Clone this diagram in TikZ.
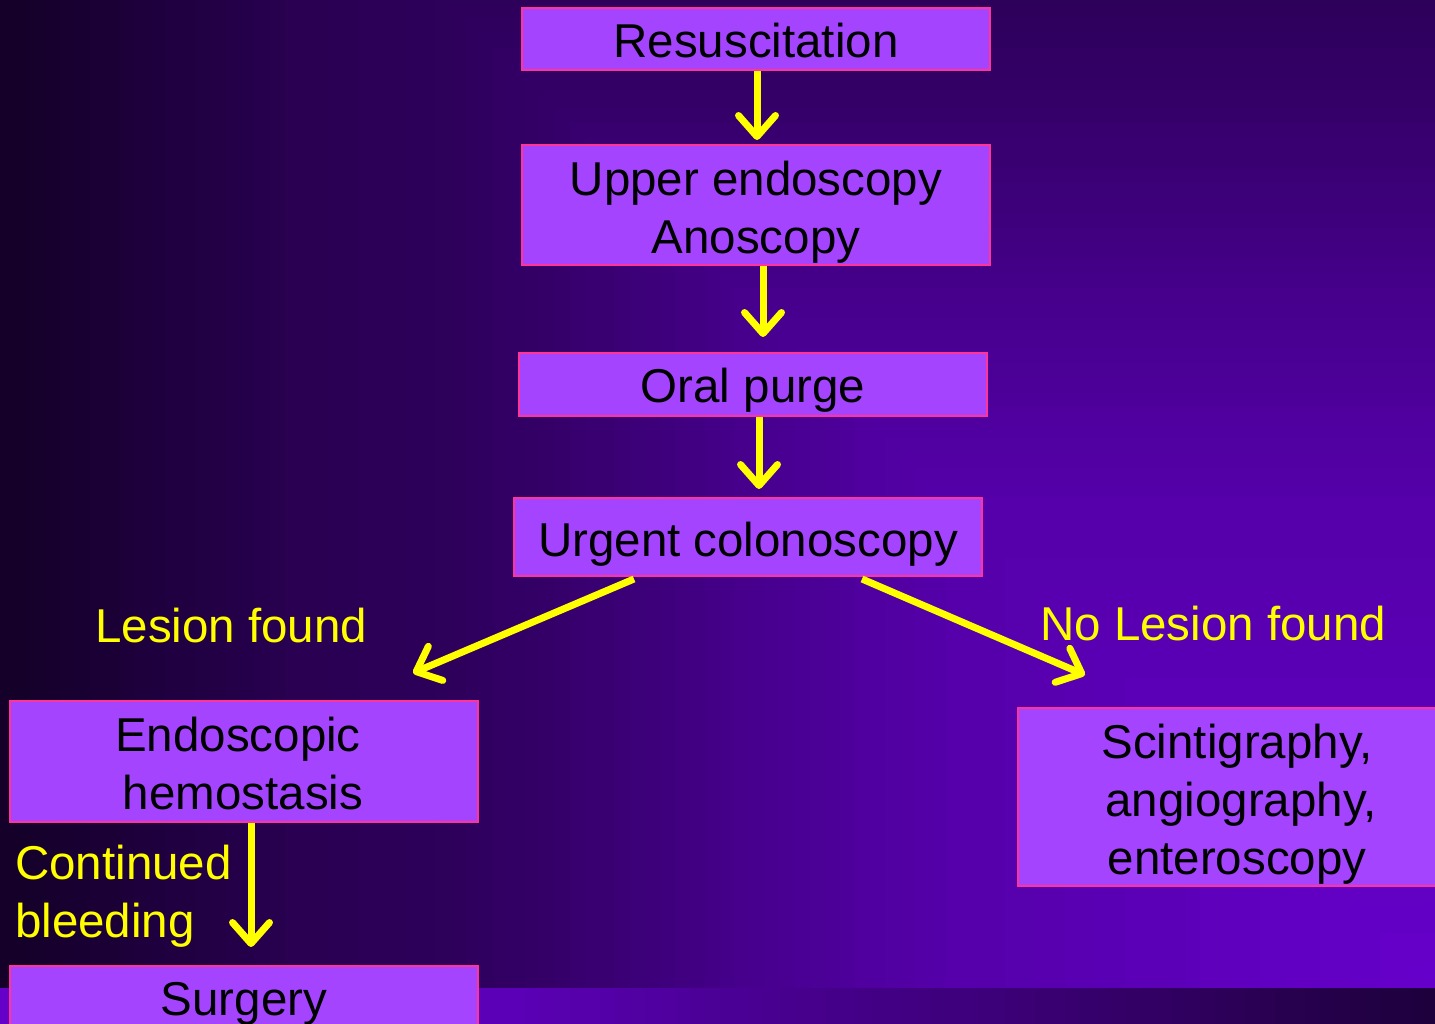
\documentclass[tikz,border=0pt]{standalone}
\usepackage{fontspec}
\setmainfont{Liberation Sans}
\usetikzlibrary{arrows.meta}
\definecolor{boxfill}{RGB}{164,68,255}
\definecolor{boxline}{RGB}{255,51,153}
\definecolor{yel}{RGB}{255,255,0}
\tikzset{
  box/.style={draw=boxline, fill=boxfill, line width=2pt, inner sep=0pt,
    text=black, anchor=base, font=\fontsize{47.5}{58}\selectfont},
  lbl/.style={text=yel, inner sep=0pt, anchor=base west, font=\fontsize{47.5}{58}\selectfont},
  arr/.style={draw=yel, line width=7pt, -{Straight Barb[length=21pt,width=37pt,round]}}
}
\begin{document}
\begin{tikzpicture}[x=1pt,y=-1pt]
\useasboundingbox (0,0) rectangle (1435,1024);
% background: rectangular gradient from bottom-right corner
\begin{scope}
\clip (0,0) rectangle (1435,988);
\foreach \d in {1435,1420,...,10} {
  \pgfmathtruncatemacro\r{\d<500 ? 102-\d/500*17 : (\d<700 ? 85-(\d-500)/200*15 : (\d<900 ? 70-(\d-700)/200*18 : (\d<1000 ? 52-(\d-900)/100*7 : (\d<1150 ? 45-(\d-1000)/150*4 : (\d<1250 ? 41-(\d-1150)/100*7 : 34-(\d-1250)/185*14)))))}
  \pgfmathtruncatemacro\b{2*\r}
  \definecolor{bgc}{RGB}{\r,0,\b}
  \fill[bgc] (1435-\d,988-\d) rectangle (1436,989);
}
\end{scope}
% bottom strip
\foreach \x in {0,15,...,1425} {
  \pgfmathtruncatemacro\r{\x<500 ? 100-\x/500*8 : (\x<700 ? 92-(\x-500)/200*16 : (\x<1000 ? 76-(\x-700)/300*16 : (\x<1200 ? 60-(\x-1000)/200*14 : 46-(\x-1200)/235*16)))}
  \pgfmathtruncatemacro\b{2*\r}
  \definecolor{bgs}{RGB}{\r,0,\b}
  \fill[bgs] (\x,988) rectangle (\x+16,1024);
}
% boxes
\node[box, minimum width=468pt, text height=50pt, text depth=12pt] (res) at (756,58) {Resuscitation};
\node[box, minimum width=468pt, text height=51pt, text depth=69pt] (upper) at (756,196)
  {\begin{tabular}[t]{@{}c@{}}Upper endoscopy\\Anoscopy\end{tabular}};
\node[box, minimum width=468pt, text height=49pt, text depth=14pt] (oral) at (753,402) {Oral purge};
\node[box, minimum width=468pt, text height=58pt, text depth=20pt] (colon) at (748,556) {Urgent colonoscopy};
\node[box, minimum width=468pt, text height=50pt, text depth=71pt] (endo) at (244,751)
  {\begin{tabular}[t]{@{}c@{}}Endoscopic\\\hspace*{10pt}hemostasis\end{tabular}\hspace*{12pt}};
\node[box, minimum width=438pt, text height=50pt, text depth=128pt] (scint) at (1237,758)
  {\begin{tabular}[t]{@{}c@{}}Scintigraphy,\\\hspace*{8pt}angiography,\\enteroscopy\end{tabular}};
\node[box, minimum width=468pt, text height=49pt, text depth=30pt] (surg) at (244,1015) {Surgery};
% labels
\node[lbl] (lf) at (95,642) {Lesion found};
\node[lbl] (nlf) at (1040,640) {No Lesion found};
\node[lbl] (cb1) at (15,879) {Continued};
\node[lbl] (cb2) at (15,937) {bleeding};
% arrows
\draw[arr] ([xshift=1pt]res.south) -- ([xshift=1pt,yshift=4pt]upper.north);
\draw[arr] ([xshift=7pt]upper.south) -- ([xshift=10pt,yshift=15pt]oral.north);
\draw[arr] ([xshift=6pt]oral.south) -- ([xshift=11pt,yshift=8pt]colon.north);
\draw[arr] ([xshift=-114pt,yshift=-2pt]colon.south) -- ([xshift=-66pt,yshift=27pt]endo.north east);
\draw[arr] ([xshift=114pt,yshift=-2pt]colon.south) -- ([xshift=68pt,yshift=32pt]scint.north west);
\draw[arr] ([xshift=7pt]endo.south) -- ([xshift=7pt,yshift=18pt]surg.north);
\end{tikzpicture}
\end{document}
